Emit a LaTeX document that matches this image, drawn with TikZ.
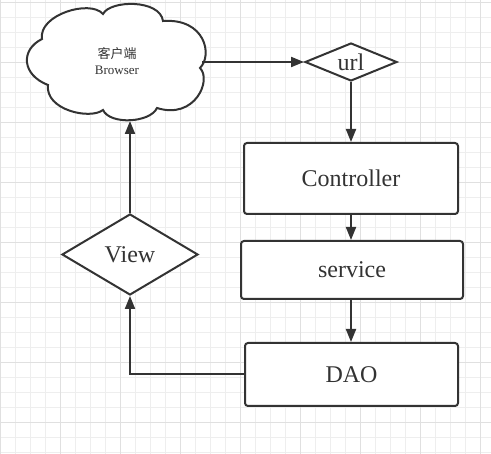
\documentclass[tikz,border=0pt]{standalone}
\usepackage{fontspec}
\setmainfont{Liberation Serif}
\newfontfamily\cjk{Noto Sans CJK SC}
\usetikzlibrary{shapes.geometric,arrows.meta}
\definecolor{ink}{HTML}{333333}
\definecolor{gridminor}{HTML}{EEEEEE}
\definecolor{gridmajor}{HTML}{E0E0E0}
\tikzset{
  shapeline/.style={draw=ink, line width=2pt, fill=white, text=ink},
  boxnode/.style={shapeline, rectangle, rounded corners=3pt, inner sep=0pt, font=\fontsize{24}{28}\selectfont},
  dianode/.style={shapeline, diamond, inner sep=0pt, font=\fontsize{24}{28}\selectfont},
  conn/.style={draw=ink, line width=2pt, -{Triangle[length=13pt,width=10pt]}},
  gminor/.style={draw=gridminor, line width=1pt},
  gmajor/.style={draw=gridmajor, line width=1pt}
}
\begin{document}
\begin{tikzpicture}[x=1pt,y=-1pt]
\useasboundingbox (0,0) rectangle (491,454);
\fill[white] (0,0) rectangle (491,454);
% grid
\foreach \k in {0,...,32} {\draw[gminor] ({\k*15+0.5},0) -- ({\k*15+0.5},454);}
\foreach \k in {0,...,30} {\draw[gminor] (0,{\k*15+3}) -- (491,{\k*15+3});}
\foreach \k in {0,...,8} {\draw[gmajor] ({\k*60+0.5},0) -- ({\k*60+0.5},454);}
\foreach \k in {0,...,7} {\draw[gmajor] (0,{\k*60+3}) -- (491,{\k*60+3});}
% cloud
\draw[draw=ink, line width=2pt, fill=white]
  (42,39) .. controls (38,15) and (90,-1) .. (103,14)
  .. controls (110,0) and (160,-1) .. (163,21)
  .. controls (205,18) and (213,55) .. (200,68)
  .. controls (212,80) and (195,120) .. (157,108)
  .. controls (150,123) and (110,125) .. (103,110)
  .. controls (90,120) and (45,110) .. (48,85)
  .. controls (22,75) and (20,50) .. (42,39) -- cycle;
\node[text=ink, font=\cjk\fontsize{13}{15}\selectfont] (cloudzh) at (117,54) {客户端};
\node[text=ink, font=\fontsize{13}{15}\selectfont] (clouden) at (117,70) {Browser};
\coordinate (cloudE) at (202,62);
\coordinate (cloudS) at (130,121);
% nodes
\node[dianode, aspect=2.42, minimum width=92pt, minimum height=38pt] (url) at (351,62) {url};
\node[boxnode, minimum width=214pt, minimum height=71pt] (ctrl) at (351,178.5) {Controller};
\node[boxnode, minimum width=222pt, minimum height=58pt] (svc) at (352,270) {service};
\node[boxnode, minimum width=213pt, minimum height=63pt] (dao) at (351.5,374.5) {DAO};
\node[dianode, aspect=1.68, minimum width=136pt, minimum height=81pt] (view) at (130,254.5) {View};
% connectors
\draw[conn] (cloudE) -- (url.west);
\draw[conn] (url.south) -- (ctrl.north);
\draw[conn] (ctrl.south) -- (ctrl.south |- svc.north);
\draw[conn] (svc.south -| ctrl.south) -- (ctrl.south |- dao.north);
\draw[conn] (dao.west) -| (view.south);
\draw[conn] (view.north) -- (cloudS);
\end{tikzpicture}
\end{document}
